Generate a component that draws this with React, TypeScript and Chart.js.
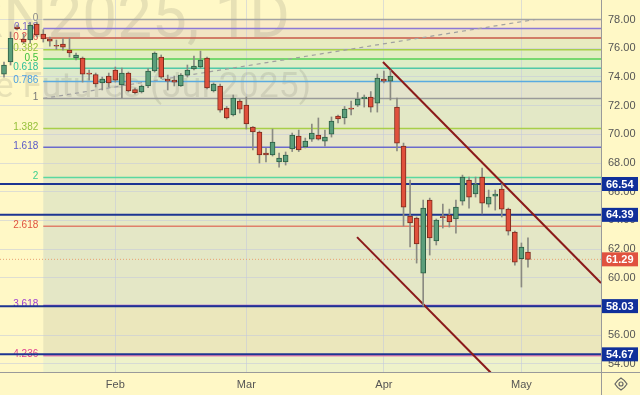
import React, { useEffect, useRef } from "react";
import { Chart, registerables } from "chart.js";
Chart.register(...registerables);

// ---- Candles (daily), index 0 .. 80 ----
const opens = [74.20, 75.04, 77.48, 76.64, 76.57, 77.69, 76.99, 76.64, 76.17, 76.29,
  75.87, 75.32, 75.32, 74.22, 74.17, 73.58, 74.06, 74.48, 73.44, 74.27,
  73.12, 72.95, 73.37, 74.41, 75.39, 73.85, 73.78, 73.37, 74.13, 74.55,
  74.69, 75.32, 73.02, 73.37, 71.83, 71.35, 72.32, 72.04, 70.51, 70.16,
  68.70, 68.56, 68.07, 68.07, 68.98, 69.88, 69.12, 69.67, 69.95, 69.53,
  70.02, 71.28, 71.14, 71.83, 72.04, 72.49, 72.60, 72.18, 73.85, 73.71,
  71.90, 69.18, 64.31, 64.17, 60.33, 65.42, 62.57, 64.24, 64.38, 64.10,
  65.35, 66.81, 65.84, 67.02, 65.14, 65.70, 66.19, 64.79, 63.19, 61.34, 61.80];
const highs = [75.04, 77.13, 77.62, 76.99, 77.76, 77.83, 77.30, 76.78, 76.57, 76.68,
  76.71, 75.67, 75.39, 74.48, 74.27, 73.99, 74.27, 74.69, 74.62, 74.34,
  73.23, 73.44, 74.59, 75.74, 75.53, 74.13, 74.06, 74.24, 74.83, 75.46,
  75.80, 75.39, 73.58, 73.51, 71.94, 72.74, 72.43, 72.60, 70.54, 70.23,
  69.05, 70.37, 68.70, 68.77, 70.09, 70.30, 69.74, 70.72, 71.14, 70.30,
  71.21, 71.35, 71.94, 72.32, 72.91, 72.74, 72.98, 74.20, 74.41, 74.48,
  72.53, 69.39, 66.81, 64.24, 65.42, 65.56, 64.10, 65.14, 64.79, 65.42,
  67.16, 67.02, 67.02, 67.65, 66.12, 66.12, 66.54, 64.86, 63.26, 62.43, 62.78];
const lows = [73.99, 74.83, 77.27, 76.33, 76.36, 76.78, 76.43, 76.15, 75.91, 75.87,
  75.39, 75.18, 73.64, 73.78, 73.30, 73.09, 73.30, 73.64, 72.53, 72.95,
  72.81, 72.88, 73.26, 74.34, 73.89, 73.09, 73.37, 73.33, 73.99, 74.48,
  74.62, 73.16, 72.95, 71.55, 71.07, 71.28, 71.48, 70.37, 68.91, 68.00,
  68.07, 68.49, 67.72, 67.86, 68.80, 68.80, 69.05, 69.50, 69.60, 69.18,
  69.81, 70.79, 70.72, 71.35, 71.94, 71.90, 71.55, 71.55, 73.58, 72.39,
  68.84, 63.61, 62.15, 61.03, 58.03, 61.59, 62.29, 63.47, 63.54, 63.12,
  65.07, 64.86, 65.63, 64.45, 64.93, 64.72, 64.24, 62.98, 60.89, 59.36, 60.75];
const closes = [74.83, 76.71, 77.37, 76.43, 77.62, 76.92, 76.64, 76.50, 76.14, 76.08,
  75.67, 75.53, 74.20, 74.19, 73.51, 73.85, 73.58, 73.78, 74.27, 73.02,
  72.91, 73.37, 74.41, 75.67, 73.99, 73.71, 73.64, 74.13, 74.48, 74.76,
  75.18, 73.23, 73.51, 71.69, 71.14, 72.53, 71.76, 70.72, 70.16, 68.56,
  68.56, 69.46, 68.35, 68.56, 69.95, 68.91, 69.53, 70.09, 69.67, 69.81,
  70.93, 71.07, 71.76, 71.76, 72.46, 72.60, 71.90, 73.92, 73.71, 74.06,
  69.39, 64.93, 63.82, 62.36, 64.86, 62.78, 64.03, 64.20, 63.89, 64.93,
  67.02, 65.63, 66.54, 65.21, 65.63, 65.84, 64.79, 63.26, 61.10, 62.15, 61.29];

// ---- Axes ----
const monthTicks = [17, 37, 58, 79];
const monthLabels = ["Feb", "Mar", "Apr", "May"];
const priceTicks = [54, 56, 58, 60, 62, 64, 66, 68, 70, 72, 74, 76, 78];

// ---- Fibonacci extension ----
const fibLabels = ["0", "0.118", "0.236", "0.382", "0.5", "0.618", "0.786", "1", "1.382", "1.618", "2", "2.618", "3.618", "4.236"];
const fibPrices = [78.0, 77.38, 76.72, 75.9, 75.25, 74.6, 73.68, 72.5, 70.4, 69.1, 67.0, 63.6, 58.08, 54.58];
const fibLineColors = ["#a3a3a3", "#8c78d6", "#c8584a", "#a8cf48", "#55d055", "#50c8a8", "#5aaae0", "#9a9a9a", "#a8cf48", "#6a6acc", "#5ad8a0", "#e0806a", "#9a4ad0", "#e880b0"];
const fibTextColors = ["#8a8a8a", "#7b68c8", "#d9534f", "#96c03a", "#3cc13c", "#2fbf99", "#4a9fe0", "#777777", "#96c03a", "#5a5ac8", "#3ccf8e", "#e0533f", "#a040d0", "#e0408f"];
const fibBandColors = ["#fbebc6", "#f1e4c4", "#e8ebc0", "#e2edc2", "#deedc6", "#dde9ca", "#e4e4cc", "#e3e8c6", "#e6e5ca", "#eae9be", "#e6e9c4", "#e4e7c6", "#ebe7bc"];
const fibBottomBand = "#eef2ca";
const fibStartIndex = 6;
const fibTrend = [{ x: 6, y: 72.5 }, { x: 81.1, y: 78.0 }];

// ---- Other drawings ----
const levelLines = [66.54, 64.39, 58.03, 54.67];
const lastPrice = 61.29;
const channelUpper = [{ x: 57.86, y: 75.04 }, { x: 91.15, y: 59.64 }];
const channelLower = [{ x: 53.9, y: 62.84 }, { x: 74.3, y: 53.4 }];

const X_MIN = -0.61, X_MAX = 91.15, Y_MIN = 53.44, Y_MAX = 79.36;
const FONT = "'Liberation Sans', Arial, sans-serif";
const WM_FONT = "Roboto, 'Liberation Sans', sans-serif";
const BASE_BG = "#fff8c6";

export default function App() {
  const ref = useRef<HTMLCanvasElement>(null);
  useEffect(() => {
    document.body.style.margin = "0";
    const up = closes.map((c, i) => c >= opens[i]);
    const bodyData = opens.map((o, i) => ({ x: i, y: [o, closes[i]] }));
    const wickData = lows.map((l, i) => ({ x: i, y: [l, highs[i]] }));

    const hline = (v: number, from = X_MIN) => [{ x: from, y: v }, { x: X_MAX, y: v }];

    const bgPlugin = {
      id: "bg",
      beforeDraw(chart: any) {
        const { ctx, chartArea, scales } = chart;
        ctx.save();
        ctx.fillStyle = BASE_BG;
        ctx.fillRect(0, 0, chart.width, chart.height);
        const x0 = scales.x.getPixelForValue(fibStartIndex);
        for (let i = 0; i < fibPrices.length - 1; i++) {
          const y1 = scales.y.getPixelForValue(fibPrices[i]);
          const y2 = scales.y.getPixelForValue(fibPrices[i + 1]);
          ctx.fillStyle = fibBandColors[i];
          ctx.fillRect(x0, y1, chartArea.right - x0, y2 - y1);
        }
        const yl = scales.y.getPixelForValue(fibPrices[fibPrices.length - 1]);
        ctx.fillStyle = fibBottomBand;
        ctx.fillRect(x0, yl, chartArea.right - x0, chartArea.bottom - yl);
        ctx.restore();
      },
      beforeDatasetsDraw(chart: any) {
        const { ctx, chartArea, scales } = chart;
        ctx.save();
        ctx.beginPath();
        ctx.rect(chartArea.left, chartArea.top, chartArea.right - chartArea.left, chartArea.bottom - chartArea.top);
        ctx.clip();
        ctx.fillStyle = "rgba(110,110,100,0.17)";
        ctx.textAlign = "right";
        ctx.textBaseline = "alphabetic";
        ctx.font = `62px ${WM_FONT}`;
        ctx.fillText("BRN2025, 1D", 290, 37);
        ctx.font = `35.5px ${WM_FONT}`;
        ctx.fillText("Brent Crude Futures (Jul 2025)", 311, 97);
        // fib labels
        const x0 = scales.x.getPixelForValue(fibStartIndex);
        ctx.font = `10px ${FONT}`;
        ctx.textBaseline = "middle";
        ctx.textAlign = "right";
        fibLabels.forEach((t, i) => {
          ctx.fillStyle = fibTextColors[i];
          ctx.fillText(t, x0 - 5, scales.y.getPixelForValue(fibPrices[i]) - 1);
        });
        ctx.restore();
      },
      afterDraw(chart: any) {
        const { ctx, chartArea, scales } = chart;
        ctx.save();
        // axis separator extensions
        ctx.strokeStyle = "#9a9a9a";
        ctx.lineWidth = 1;
        ctx.beginPath();
        ctx.moveTo(chartArea.right + 0.5, chartArea.bottom);
        ctx.lineTo(chartArea.right + 0.5, chart.height);
        ctx.moveTo(chartArea.right, chartArea.bottom + 0.5);
        ctx.lineTo(chart.width, chartArea.bottom + 0.5);
        ctx.stroke();
        // value boxes
        const box = (v: number, color: string) => {
          const y = scales.y.getPixelForValue(v);
          ctx.fillStyle = color;
          ctx.fillRect(chartArea.right + 1, y - 7, 36, 14);
          ctx.fillStyle = "#ffffff";
          ctx.font = `bold 11px ${FONT}`;
          ctx.textAlign = "left";
          ctx.textBaseline = "middle";
          ctx.fillText(v.toFixed(2), chartArea.right + 5, y + 0.5);
        };
        levelLines.forEach((v) => box(v, "#10309a"));
        box(lastPrice, "#e0523f");
        // gear icon
        const gx = 621, gy = 384;
        ctx.strokeStyle = "#666";
        ctx.lineWidth = 1.2;
        ctx.beginPath();
        for (let k = 0; k < 8; k++) {
          const a = (k / 8) * Math.PI * 2;
          const r = k % 2 === 0 ? 6 : 4.8;
          const px = gx + r * Math.cos(a), py = gy + r * Math.sin(a);
          if (k === 0) ctx.moveTo(px, py); else ctx.lineTo(px, py);
        }
        ctx.closePath();
        ctx.stroke();
        ctx.beginPath();
        ctx.arc(gx, gy, 2, 0, Math.PI * 2);
        ctx.stroke();
        ctx.restore();
      },
    };

    const lineDs = (data: any[], color: string, width: number, order: number, dash: number[] = []) => ({
      type: "line" as const,
      data,
      borderColor: color,
      borderWidth: width,
      borderDash: dash,
      pointRadius: 0,
      fill: false,
      tension: 0,
      order,
    });

    const datasets: any[] = [
      {
        type: "bar",
        data: bodyData,
        backgroundColor: up.map((u) => (u ? "#5b9e7b" : "#e0503c")),
        borderColor: up.map((u) => (u ? "#2d5e44" : "#7c2a1c")),
        borderWidth: 1,
        borderSkipped: false,
        barThickness: 5,
        minBarLength: 1,
        grouped: false,
        order: 0,
      },
      {
        type: "bar",
        data: wickData,
        backgroundColor: "#8a8a82",
        borderWidth: 0,
        barThickness: 1,
        grouped: false,
        order: 1,
      },
      lineDs(channelUpper, "#8b1a1a", 2, 2),
      lineDs(channelLower, "#8b1a1a", 2, 2),
      ...levelLines.map((v) => lineDs(hline(v), "#1c3592", 2, 3)),
      lineDs(hline(lastPrice), "#e8a070", 1, 4, [1, 2]),
      lineDs(fibTrend, "#a0a0a0", 1.2, 5, [4, 4]),
      ...fibPrices.map((v, i) => lineDs(hline(v, fibStartIndex), fibLineColors[i], 1.5, 6)),
    ];

    const chart = new Chart(ref.current!, {
      type: "bar",
      data: { datasets },
      plugins: [bgPlugin],
      options: {
        responsive: false,
        animation: false,
        events: [],
        layout: { padding: 0 },
        plugins: { legend: { display: false }, tooltip: { enabled: false } },
        scales: {
          x: {
            type: "linear",
            min: X_MIN,
            max: X_MAX,
            offset: false,
            afterFit: (s: any) => { s.height = 23; s.paddingLeft = 0; s.paddingRight = 0; },
            afterBuildTicks: (s: any) => { s.ticks = monthTicks.map((v) => ({ value: v })); },
            ticks: {
              autoSkip: false,
              maxRotation: 0,
              padding: 6,
              color: "#555",
              font: { family: FONT, size: 11 },
              callback: (v: any) => monthLabels[monthTicks.indexOf(Number(v))] ?? "",
            },
            grid: { color: "rgba(195,200,220,0.55)", drawTicks: false, offset: false },
            border: { display: true, color: "#9a9a9a" },
          },
          y: {
            type: "linear",
            position: "right",
            min: Y_MIN,
            max: Y_MAX,
            afterFit: (s: any) => { s.width = 39; s.paddingTop = 0; s.paddingBottom = 0; },
            afterBuildTicks: (s: any) => { s.ticks = priceTicks.map((v) => ({ value: v })); },
            ticks: {
              padding: 7,
              color: "#555",
              font: { family: FONT, size: 11 },
              callback: (v: any) => Number(v).toFixed(2),
            },
            grid: { color: "rgba(195,200,220,0.55)", drawTicks: false, offset: false },
            border: { display: true, color: "#9a9a9a" },
          },
        },
      } as any,
    });
    return () => chart.destroy();
  }, []);
  return (
    <div style={{ position: "absolute", left: 0, top: 0, width: 640, height: 395 }}>
      <canvas ref={ref} width={640} height={395} style={{ display: "block" }} />
    </div>
  );
}
